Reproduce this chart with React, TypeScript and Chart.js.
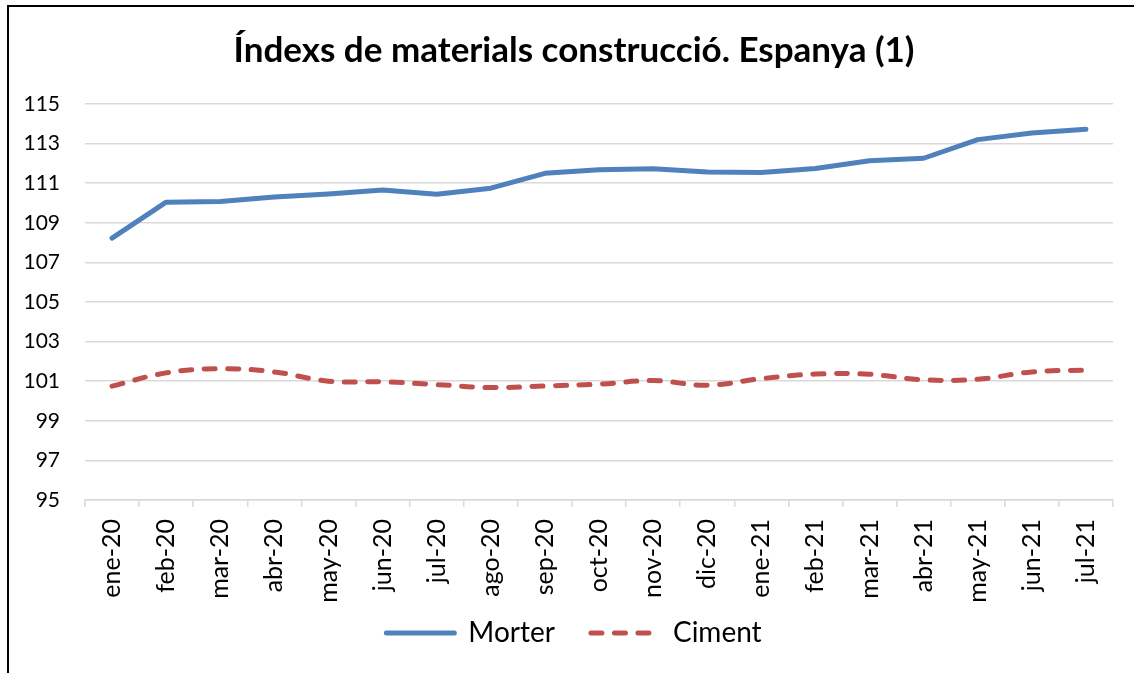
import React, { useEffect, useRef } from 'react';
import { Chart, registerables } from 'chart.js';

Chart.register(...registerables);

const categories = [
  'ene-20', 'feb-20', 'mar-20', 'abr-20', 'may-20', 'jun-20', 'jul-20', 'ago-20', 'sep-20', 'oct-20',
  'nov-20', 'dic-20', 'ene-21', 'feb-21', 'mar-21', 'abr-21', 'may-21', 'jun-21', 'jul-21',
];

const morterValues = [
  108.23, 110.04, 110.07, 110.3, 110.46, 110.66, 110.44, 110.75, 111.5, 111.68,
  111.73, 111.57, 111.54, 111.74, 112.13, 112.26, 113.2, 113.54, 113.73,
];

const cimentValues = [
  100.75, 101.42, 101.63, 101.47, 101.0, 100.97, 100.83, 100.68, 100.76, 100.85,
  101.03, 100.8, 101.13, 101.36, 101.35, 101.07, 101.1, 101.47, 101.56,
];

const seriesNames = ['Morter', 'Ciment'];
const titleText = 'Índexs de materials construcció. Espanya (1)';
const yMin = 95;
const yMax = 115;
const yStep = 2;

const BLUE = '#4F81BD';
const RED = '#C0504D';
const GRID = '#d9d9d9';
const FONT = 'Lato';
const DASH = [11, 12.5];

// let tick labels extend beyond the (fixed-size) scale boxes instead of being clipped
const noLabelClip = (s: any) => {
  s._computeLabelArea = () => undefined;
};

export default function App() {
  const ref = useRef<HTMLCanvasElement>(null);

  useEffect(() => {
    const chart = new Chart(ref.current as HTMLCanvasElement, {
      type: 'line',
      data: {
        labels: categories,
        datasets: [
          {
            label: seriesNames[0],
            data: morterValues,
            borderColor: BLUE,
            backgroundColor: BLUE,
            borderWidth: 5,
            pointRadius: 0,
            tension: 0,
            borderCapStyle: 'round',
            borderJoinStyle: 'round',
          },
          {
            label: seriesNames[1],
            data: cimentValues,
            borderColor: RED,
            backgroundColor: RED,
            borderWidth: 5,
            borderDash: DASH,
            borderCapStyle: 'round',
            borderJoinStyle: 'round',
            pointRadius: 0,
            tension: 0.4,
          },
        ],
      },
      options: {
        responsive: false,
        animation: false,
        devicePixelRatio: 1,
        layout: { padding: { top: 18, left: 35, right: 21, bottom: 16 } },
        plugins: {
          title: {
            display: true,
            text: titleText,
            color: '#000',
            font: { family: FONT, size: 35, weight: 'bold' },
            padding: { top: 11.5, bottom: 32.5 },
          },
          legend: {
            position: 'bottom',
            labels: {
              usePointStyle: true,
              pointStyleWidth: 68,
              color: '#000',
              font: { family: FONT, size: 28 },
              padding: 36,
              generateLabels: (c: any) =>
                c.data.datasets.map((ds: any, i: number) => ({
                  text: ds.label,
                  fillStyle: ds.borderColor,
                  strokeStyle: ds.borderColor,
                  lineWidth: 5,
                  lineDash: ds.borderDash || [],
                  lineCap: 'round',
                  pointStyle: 'line',
                  hidden: false,
                  datasetIndex: i,
                  fontColor: '#000',
                })),
            },
          },
          tooltip: { enabled: false },
        },
        scales: {
          x: {
            offset: true,
            grid: {
              display: true,
              drawOnChartArea: false,
              drawTicks: true,
              tickLength: 7,
              color: GRID,
              lineWidth: 1.5,
              offset: true,
            },
            border: { display: true, color: GRID, width: 1.5 },
            ticks: {
              autoSkip: false,
              minRotation: 90,
              maxRotation: 90,
              padding: 12,
              color: '#000',
              font: { family: FONT, size: 25 },
            },
            afterFit: (s: any) => {
              s.height = 83;
              noLabelClip(s);
            },
          },
          y: {
            min: yMin,
            max: yMax,
            ticks: {
              stepSize: yStep,
              padding: 25,
              color: '#000',
              font: { family: FONT, size: 21 },
            },
            grid: { color: GRID, lineWidth: 1.5, drawTicks: false },
            border: { display: false },
            afterFit: (s: any) => {
              s.width = 50;
              noLabelClip(s);
            },
          },
        },
      },
    } as any);
    return () => chart.destroy();
  }, []);

  return (
    <div>
      <div
        style={{
          position: 'fixed',
          left: 7,
          top: 5,
          width: 1150,
          height: 700,
          border: '2px solid #000',
          boxSizing: 'border-box',
        }}
      />
      <canvas
        ref={ref}
        width={1134}
        height={673}
        style={{ position: 'fixed', left: 0, top: 0, width: 1134, height: 673 }}
      />
    </div>
  );
}
